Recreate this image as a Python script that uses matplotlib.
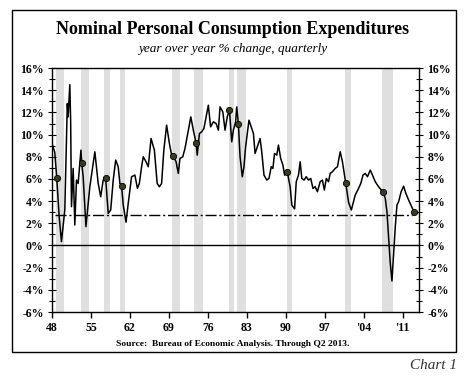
"""Nominal PCE, year over year % change, with recession shading."""

import matplotlib.pyplot as plt
from matplotlib.patches import Rectangle

# values
years = [
    1948.1, 1948.5, 1948.85, 1949.3, 1949.7, 1950.3, 1950.75, 1950.9, 1951.2, 1951.35,
    1951.5, 1951.8, 1952.1, 1952.4, 1952.7, 1953.2, 1953.35, 1953.6, 1954.1, 1954.8,
    1955.7, 1956.3, 1956.75, 1957.2, 1957.65, 1958.1, 1958.55, 1959.0, 1959.45, 1959.9,
    1960.2, 1960.5, 1960.8, 1961.3, 1961.7, 1962.3, 1962.9, 1963.35, 1963.7, 1964.1,
    1964.4, 1964.9, 1965.3, 1965.8, 1966.4, 1966.9, 1967.3, 1967.7, 1968.1, 1968.6,
    1969.1, 1969.5, 1969.8, 1970.3, 1970.7, 1971.0, 1971.5, 1971.9, 1972.5, 1972.95,
    1973.4, 1973.9, 1974.1, 1974.5, 1974.9, 1975.3, 1976.1, 1976.5, 1977.0, 1977.5,
    1977.9, 1978.2, 1978.7, 1979.1, 1979.5, 1979.9, 1980.3, 1980.6, 1981.0, 1981.2,
    1981.5, 1981.8, 1982.2, 1982.5, 1982.8, 1983.4, 1983.9, 1984.2, 1984.5, 1984.9,
    1985.4, 1985.7, 1986.1, 1986.6, 1987.0, 1987.4, 1987.7, 1988.0, 1988.4, 1988.7,
    1989.1, 1989.5, 1989.8, 1990.3, 1990.8, 1991.1, 1991.6, 1991.9, 1992.3, 1992.6,
    1992.9, 1993.3, 1993.7, 1994.1, 1994.5, 1994.9, 1995.3, 1995.7, 1996.2, 1996.6,
    1996.95, 1997.3, 1997.7, 1998.0, 1998.4, 1998.9, 1999.3, 1999.8, 2000.2, 2000.8,
    2001.3, 2001.8, 2002.2, 2002.5, 2003.1, 2003.5, 2003.9, 2004.3, 2004.7, 2005.2,
    2005.6, 2006.1, 2006.7, 2007.5, 2007.9, 2008.2, 2008.5, 2008.8, 2009.1, 2009.4,
    2009.7, 2010.0, 2010.3, 2010.75, 2011.2, 2011.6, 2012.1, 2012.5, 2013.1,
]
pce_yoy = [
    9.05, 8.4, 6.1, 2.5, 0.35, 3.2, 12.8, 11.6, 14.5, 11.3,
    3.5, 6.95, 1.85, 5.9, 5.6, 8.6, 7.4, 6.2, 1.7, 5.3,
    8.45, 5.6, 4.4, 5.9, 6.05, 2.9, 3.2, 5.9, 7.7, 7.1,
    5.6, 5.4, 3.65, 2.1, 3.8, 6.2, 6.35, 5.15, 5.6, 7.1,
    8.0, 7.55, 7.1, 9.65, 8.6, 5.6, 5.3, 5.6, 8.6, 10.85,
    9.2, 8.15, 8.05, 7.55, 6.5, 7.85, 8.0, 8.75, 10.4, 11.6,
    10.4, 9.25, 8.15, 10.1, 10.25, 10.55, 12.65, 10.7, 11.15, 11.0,
    10.4, 12.5, 12.05, 10.4, 11.6, 12.2, 9.35, 10.4, 11.15, 12.5,
    10.95, 8.0, 6.2, 7.1, 8.9, 11.3, 10.55, 10.1, 8.3, 8.9,
    9.65, 8.45, 6.35, 5.9, 6.05, 7.1, 6.95, 8.3, 8.15, 9.05,
    7.85, 7.25, 6.35, 6.6, 5.3, 3.65, 3.3, 5.75, 6.35, 7.55,
    6.05, 5.9, 6.2, 5.9, 6.05, 5.15, 5.3, 4.85, 5.75, 5.9,
    5.0, 6.05, 5.75, 6.5, 6.65, 6.95, 7.1, 8.45, 7.55, 5.6,
    3.9, 3.2, 3.95, 4.55, 5.15, 5.6, 6.35, 6.5, 6.2, 6.8,
    6.35, 5.75, 5.3, 4.8, 4.25, 3.05, 0.8, -1.6, -3.2, -0.7,
    1.7, 3.65, 3.95, 4.85, 5.35, 4.7, 4.1, 3.65, 3.0,
]
# dots at the start of each recession and the latest reading
dot_years = [1948.85, 1953.35, 1957.65, 1960.5, 1969.8, 1973.9, 1979.9, 1981.5,
             1990.3, 2000.8, 2007.5, 2013.1]
dot_vals = [6.1, 7.4, 6.05, 5.4, 8.05, 9.25, 12.2, 10.95, 6.6, 5.6, 4.8, 3.0]

rec_start = [1948.7, 1953.2, 1957.4, 1960.2, 1969.6, 1973.6, 1979.9, 1981.3, 1990.2, 2000.7, 2007.4]
rec_end = [1950.1, 1954.6, 1958.5, 1961.2, 1971.0, 1975.2, 1980.7, 1982.9, 1991.2, 2001.8, 2009.3]

ref_level = 2.75
xticks = [1948, 1955, 1962, 1969, 1976, 1983, 1990, 1997, 2004, 2011]
xlabels = ["48", "55", "62", "69", "76", "83", "90", "97", "'04", "'11"]
yticks = list(range(-6, 17, 2))

plt.rcParams["font.family"] = ["Liberation Serif", "DejaVu Serif"]

fig = plt.figure(figsize=(4.66, 3.77), dpi=100)
fig.patches.append(Rectangle((0.026, 0.066), 0.953, 0.907, transform=fig.transFigure,
                             fill=False, edgecolor="black", linewidth=1.0))

ax = fig.add_axes([0.1116, 0.1724, 0.788, 0.647])
for s, e in zip(rec_start, rec_end):
    ax.axvspan(s, e, color="#dfdfdf", linewidth=0, zorder=0)

ax.axhline(0, color="black", linewidth=1.0, zorder=1)
ax.plot([1948.6, 2012.7], [ref_level, ref_level], color="black", linewidth=1.0,
        dashes=(8, 2, 1.5, 2), zorder=2)
ax.plot(years, pce_yoy, color="black", linewidth=1.1, zorder=3)
ax.plot(dot_years, dot_vals, "o", markersize=4.5, markerfacecolor="#3b3b1c",
        markeredgecolor="black", markeredgewidth=0.6, zorder=4)

ax.set_xlim(1948, 2014)
ax.set_ylim(-6, 16)
ax.set_xticks(xticks)
ax.set_xticklabels(xlabels, fontweight="bold", fontsize=8.5)
ax.set_yticks(yticks)
ax.set_yticks(range(-6, 17), minor=True)
ax.set_yticklabels([f"{v}%" for v in yticks], fontweight="bold", fontsize=8.5)
ax.tick_params(axis="x", direction="out", length=4, width=1)
ax.tick_params(axis="y", which="both", direction="inout", length=6, width=0.8,
               right=True, labelright=True, pad=3)
ax.tick_params(axis="y", which="minor", length=4)
for sp in ax.spines.values():
    sp.set_linewidth(1.0)

fig.text(0.5, 0.922, "Nominal Personal Consumption Expenditures", ha="center", va="center",
         fontsize=13, fontweight="bold")
fig.text(0.5, 0.870, "year over year % change, quarterly", ha="center", va="center",
         fontsize=9.5, style="italic")
fig.text(0.5, 0.088, "Source:  Bureau of Economic Analysis. Through Q2 2013.", ha="center",
         va="center", fontsize=6.8, fontweight="bold")
fig.text(0.981, 0.030, "Chart 1", ha="right", va="center", fontsize=11, style="italic",
         color="#333333")

fig.savefig("out.png", dpi=100)
